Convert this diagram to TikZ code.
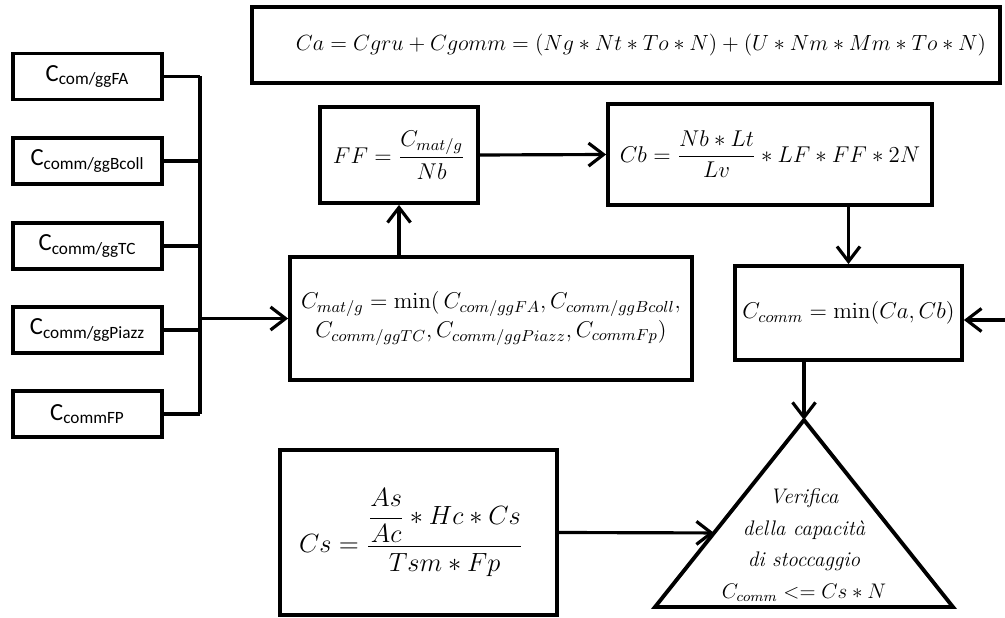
\RequirePackage{fix-cm}
\documentclass[tikz,border=0pt]{standalone}
\usepackage{amsmath}
\usepackage[no-math]{fontspec}
\newfontfamily\calfont{Carlito}
\usepackage{tikz}
\usetikzlibrary{arrows.meta,calc}

\begin{document}
\begin{tikzpicture}[x=0.02cm, y=-0.02cm,
    box/.style={draw, line width=2.2pt, inner sep=2pt},
    src/.style={box, minimum width=2.98cm, minimum height=0.92cm, font=\calfont\fontsize{14}{16}\selectfont},
    eq/.style={font=\fontsize{13}{16.5}\selectfont},
    link/.style={line width=1.8pt},
    arr/.style={link, -{Straight Barb[length=3mm, width=4.6mm]}}]
    \useasboundingbox (0,0) rectangle (1005,618);

    % Total cost (top)
    \node[box, font=\fontsize{12.5}{15}\selectfont, minimum width=14.96cm, minimum height=1.52cm] (ca) at (626,45)
        {\hspace{0.6cm}$Ca = Cgru + Cgomm = (Ng \ast Nt \ast To \ast N) + (U \ast Nm \ast Mm \ast To \ast N)$};

    % Daily inputs
    \node[src] (fa)    at (87.5,76.5) {C\textsubscript{com/ggFA}};
    \node[src] (bcoll) at (87.5,161)  {C\textsubscript{comm/ggBcoll}};
    \node[src] (tc)    at (87.5,246)  {C\textsubscript{comm/ggTC}};
    \node[src] (piazz) at (87.5,330)  {C\textsubscript{comm/ggPiazz}};
    \node[src] (fp)    at (87.5,414)  {C\textsubscript{commFP}};

    % Minimum and flow
    \node[box, eq, align=center, minimum width=8.04cm, minimum height=2.46cm] (min) at (491,318.5)
        {$C_{mat/g} = \min(\, C_{com/ggFA}, C_{comm/ggBcoll},$\\
         $C_{comm/ggTC}, C_{comm/ggPiazz}, C_{commFp})$};
    \node[box, eq, minimum width=3.16cm, minimum height=1.92cm] (ff) at (399,155)
        {$FF = \dfrac{C_{mat/g}}{Nb}$};
    \node[box, eq, minimum width=6.48cm, minimum height=2.02cm] (cb) at (770,154.5)
        {$Cb = \dfrac{Nb \ast Lt}{Lv} \ast LF \ast FF \ast 2N$};
    \node[box, eq, minimum width=4.54cm, minimum height=1.88cm] (comm) at (848.5,313)
        {$C_{comm} = \min(Ca, Cb)$};

    % Storage
    \node[box, font=\fontsize{15}{18}\selectfont, minimum width=5.54cm, minimum height=3.3cm] (cs) at (418.5,532.5)
        {\hspace{-0.3cm}$Cs = \dfrac{\dfrac{As}{Ac} \ast Hc \ast Cs}{Tsm \ast Fp}$};

    % Check triangle
    \coordinate (apex) at (804,420);
    \coordinate (bl) at (655,607);
    \coordinate (br) at (953,607);
    \draw[line width=2.2pt, line join=miter] (apex) -- (br) -- (bl) -- cycle;
    \node[align=center, font=\itshape\fontsize{12}{18}\selectfont] (ver) at (804,545)
        {Verifica\\ della capacità\\ di stoccaggio\\ $C_{comm} <= Cs \ast N$};

    % Connectors
    \coordinate (bus) at (200,318.5);
    \foreach \s in {fa,bcoll,tc,piazz,fp}
        \draw[link] (\s.east) -- (\s.east -| bus);
    \draw[link] (bus |- fa.east) -- (bus |- fp.east);
    \draw[arr] (bus) -- (min.west);
    \draw[arr] (min.north -| ff) -- (ff.south);
    \draw[arr] (ff.east) -- (cb.west);
    \draw[arr] (cb.south -| comm) -- (comm.north);
    \coordinate (feed) at (1005,320);
    \draw[arr] (feed) -- (feed -| comm.east);
    \draw[arr] (comm.south -| apex) -- (apex);
    \coordinate (hit) at ($(apex)!0.604!(bl)$);
    \draw[arr] (cs.east) -- (hit);
\end{tikzpicture}
\end{document}
